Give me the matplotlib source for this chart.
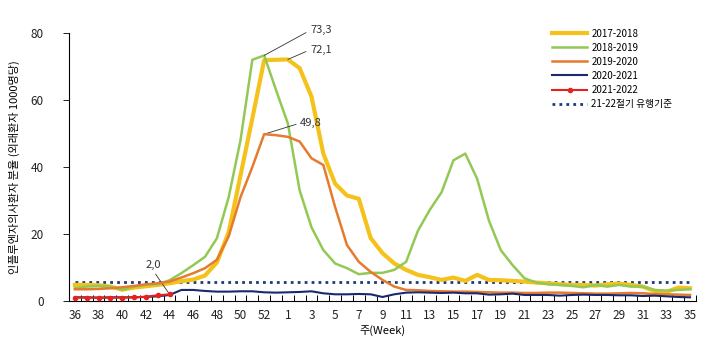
import numpy as np
import matplotlib.pyplot as plt

plt.rcParams['font.family'] = ['Noto Sans CJK KR', 'DejaVu Sans']

# weeks 36..53 then 1..35
weeks = list(range(36, 54)) + list(range(1, 36))

seasons = ['2017-2018', '2018-2019', '2019-2020', '2020-2021', '2021-2022']

s1718 = [4.8, 4.8, 4.7, 4.3, 3.4, 4.0, 4.4, 4.8, 5.3, 5.9, 6.4, 7.6, 11.5, 20.5, 37.5, 54.5,
         71.9, 72.0, 72.1, 69.5, 61.0, 44.0, 35.0, 31.5, 30.5, 18.8, 14.3, 11.2, 9.3, 7.8,
         7.1, 6.3, 7.0, 6.0, 7.8, 6.3, 6.2, 6.0, 5.8, 5.5, 5.3, 5.0, 4.8, 4.8, 4.6, 5.0,
         5.2, 4.8, 4.3, 3.0, 2.7, 4.0, 3.8]
s1819 = [3.8, 4.3, 4.5, 4.3, 3.3, 4.3, 4.8, 5.0, 6.2, 8.3, 10.7, 13.2, 18.7, 31.0, 48.0, 72.0,
         73.3, 63.0, 53.0, 33.0, 22.0, 15.2, 11.2, 9.8, 8.0, 8.4, 8.4, 9.3, 11.7, 21.0,
         27.2, 32.5, 42.0, 44.0, 36.5, 24.0, 15.2, 10.7, 6.8, 5.5, 5.0, 4.8, 4.5, 4.1, 4.8,
         4.3, 4.8, 4.3, 4.3, 3.3, 3.1, 3.3, 3.5]
s1920 = [3.5, 3.5, 3.6, 3.8, 4.1, 4.5, 5.0, 5.3, 5.8, 7.0, 8.3, 9.8, 12.3, 19.3, 31.0, 40.0,
         49.8, 49.5, 49.0, 47.6, 42.6, 40.6, 28.0, 16.7, 11.7, 8.7, 6.3, 4.3, 3.3, 3.2,
         3.0, 2.9, 2.8, 2.8, 2.7, 2.6, 2.5, 2.5, 2.4, 2.4, 2.5, 2.5, 2.4, 2.3, 2.2, 2.2,
         2.3, 2.4, 2.3, 2.1, 2.0, 1.9, 1.8]
s2021 = [1.1, 1.1, 1.0, 1.1, 1.1, 1.1, 1.2, 1.4, 1.8, 3.3, 3.3, 3.0, 2.8, 2.8, 2.9, 2.9,
         2.6, 2.5, 2.6, 2.7, 2.9, 2.3, 2.0, 2.0, 2.1, 2.0, 1.2, 2.0, 2.5, 2.6, 2.5, 2.4,
         2.5, 2.3, 2.3, 1.9, 2.0, 2.2, 1.8, 1.8, 1.8, 1.6, 1.8, 1.9, 1.8, 1.8, 1.7, 1.7,
         1.5, 1.6, 1.4, 1.2, 1.1]
s2122 = [1.0, 1.0, 1.0, 1.0, 1.0, 1.1, 1.3, 1.7, 2.0]

threshold = 5.8
threshold_label = '21-22절기 유행기준'

colors = ['#F5C21B', '#92C955', '#E57B2E', '#1B2A6E', '#E4231E']
widths = [3.0, 1.8, 1.8, 1.5, 1.5]


def fmt(v):
    return f'{v:.1f}'.replace('.', ',')


fig = plt.figure(figsize=(7.09, 3.37), dpi=100)
ax = fig.add_axes([0.0973, 0.1068, 0.8843, 0.7953])

x = np.arange(len(weeks))
series = [s1718, s1819, s1920, s2021]
for i, s in enumerate(series):
    ax.plot(x[:len(s)], s, color=colors[i], lw=widths[i], label=seasons[i], zorder=2 + i)
ax.plot(x[:len(s2122)], s2122, color=colors[4], lw=widths[4], marker='o', ms=3,
        label=seasons[4], zorder=7)
ax.plot(x, [threshold] * len(x), color='#1F3A7A', lw=2, ls=(0, (1, 1.5)),
        label=threshold_label, zorder=1)

# peak labels
notes = [(s1819, 16, (33, 18)), (s1718, 18, (16, 7)), (s1920, 16, (26, 8))]
for s, i, off in notes:
    ax.annotate(fmt(s[i]), xy=(i, s[i]), xytext=off, textcoords='offset points',
                ha='left', va='center', fontsize=8, color='#333333',
                arrowprops=dict(arrowstyle='-', color='#333333', lw=0.6,
                                relpos=(0, 0.5), shrinkA=1, shrinkB=0))
ax.annotate(fmt(s2122[8]), xy=(8, s2122[8]), xytext=(-12, 21), textcoords='offset points',
            ha='center', va='center', fontsize=8, color='#333333',
            arrowprops=dict(arrowstyle='-', color='#333333', lw=0.6,
                            relpos=(0.5, 0), shrinkA=1, shrinkB=0))

ax.set_xlim(-0.5, len(weeks) - 0.5)
ax.set_ylim(0, 80)
ax.set_yticks([0, 20, 40, 60, 80])
ax.set_xticks(x[::2])
ax.set_xticklabels([str(w) for w in weeks[::2]])
ax.set_xticks(np.arange(-0.5, len(weeks), 1), minor=True)
ax.tick_params(axis='x', which='major', length=0, pad=6, labelsize=8.5, colors='#222222')
ax.tick_params(axis='x', which='minor', direction='in', length=4, width=0.7)
ax.tick_params(axis='y', length=4, width=0.7, pad=14, labelsize=8.5, colors='#222222')
for side in ['top', 'right']:
    ax.spines[side].set_visible(False)
ax.spines['left'].set_linewidth(0.8)
ax.spines['bottom'].set_linewidth(0.8)

ax.set_xlabel('주(Week)', fontsize=8, labelpad=2)
ax.set_ylabel('인플루엔자의사환자 분율 (외래환자 1000명당)', fontsize=8, labelpad=8)

ax.legend(loc='upper left', bbox_to_anchor=(0.779, 0.915), bbox_transform=fig.transFigure,
          frameon=False, fontsize=7, handlelength=3.6, handletextpad=0.4,
          labelspacing=0.42, borderpad=0, borderaxespad=0)

fig.savefig('out.png', dpi=100)
